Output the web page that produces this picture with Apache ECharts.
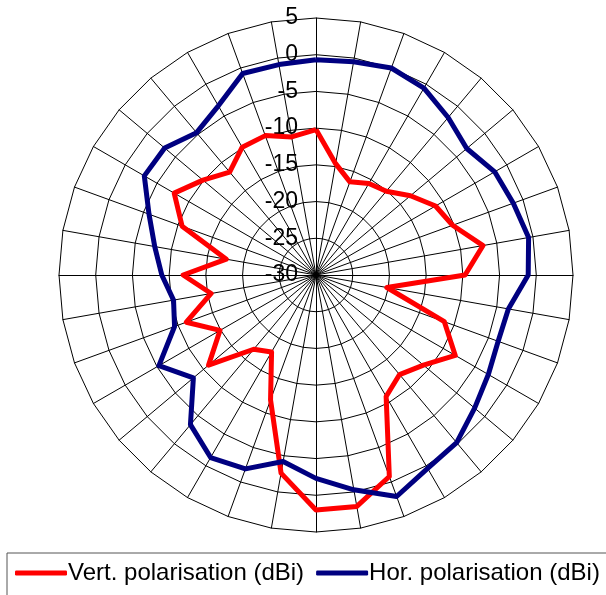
<!DOCTYPE html>
<html>
<head>
<meta charset="utf-8">
<script src="https://cdn.jsdelivr.net/npm/echarts@6/dist/echarts.min.js"></script>
<style>
  html, body { margin: 0; padding: 0; background: #fff; }
  #chart { width: 606px; height: 595px; }
</style>
</head>
<body>
<div id="chart"></div>
<script>
// bearing of each measurement, degrees clockwise from top
const angles = [0, 10, 20, 30, 40, 50, 60, 70, 80, 90, 100, 110, 120, 130, 140, 150, 160, 170,
                180, 190, 200, 210, 220, 230, 240, 250, 260, 270, 280, 290, 300, 310, 320, 330, 340, 350];
const vertValues = [-10.2, -14.6, -16.5, -15.6, -15.1, -13.2, -11.2, -10.2, -6.9, -9.7, -20.2, -11.4,
                    -8.1, -10.9, -12.3, -10.9, -0.8, 2.0, 2.0, -2.6, -11.9, -17.9, -16.8, -10.9,
                    -14.9, -11.2, -15.5, -11.9, -17.6, -10.6, -7.7, -9.9, -11.7, -9.9, -9.8, -10.9];
const horValues = [-0.7, -0.5, 0.0, -0.6, -2.0, -3.2, -1.9, -1.4, -0.6, -1.1, -3.4, -3.6,
                   -2.9, -1.8, -0.2, 0.4, 2.1, -0.3, -2.3, -4.2, -1.9, -1.3, -3.4, -8.2,
                   -5.3, -9.5, -10.3, -9.0, -7.7, -5.8, -3.0, -3.1, -4.7, -3.4, -0.8, -0.9];
const seriesNames = ['Vert. polarisation (dBi)', 'Hor. polarisation (dBi)'];
const axisMin = -30;
const axisMax = 5;

const font = "'Liberation Sans', Arial, sans-serif";

// radar lays indicators out counter-clockwise, so walk the bearings the other way
const order = [0].concat(angles.map((a, i) => i).slice(1).reverse());
const pick = arr => order.map(i => arr[i]);

const indicator = order.map((i, k) => {
    const ind = { name: '', min: axisMin, max: axisMax };
    if (k === 0) ind.axisLabel = { show: true };   // only the top spoke carries the dB scale
    return ind;
});

const chart = echarts.init(document.getElementById('chart'), null, { renderer: 'canvas' });
const option = {
    animation: false,
    backgroundColor: '#ffffff',
    legend: {
        left: 7,
        top: 553,
        width: 660,
        orient: 'horizontal',
        itemWidth: 52,
        itemHeight: 5,
        itemGap: 12,
        icon: 'roundRect',
        borderColor: '#555555',
        borderWidth: 1,
        padding: [8, 40, 30, 8],
        textStyle: { fontFamily: font, fontSize: 24, color: '#000000', padding: [0, 0, 0, -4] },
        data: seriesNames
    },
    radar: {
        center: [316, 275],
        radius: 257,
        startAngle: 90,
        shape: 'polygon',
        splitNumber: 7,
        indicator: indicator,
        axisName: { show: false },
        axisLine: { lineStyle: { color: '#000000', width: 1 } },
        splitLine: { lineStyle: { color: '#000000', width: 1 } },
        splitArea: { show: false },
        axisTick: { show: false },
        axisLabel: {
            show: false,
            fontFamily: font,
            fontSize: 23,
            color: '#000000',
            margin: 18
        }
    },
    series: [
        {
            name: seriesNames[0],
            type: 'radar',
            symbol: 'none',
            itemStyle: { color: '#ff0000' },
            lineStyle: { color: '#ff0000', width: 5 },
            data: [{ name: seriesNames[0], value: pick(vertValues) }]
        },
        {
            name: seriesNames[1],
            type: 'radar',
            symbol: 'none',
            itemStyle: { color: '#000080' },
            lineStyle: { color: '#000080', width: 5 },
            data: [{ name: seriesNames[1], value: pick(horValues) }]
        }
    ]
};
chart.setOption(option);
</script>
</body>
</html>
